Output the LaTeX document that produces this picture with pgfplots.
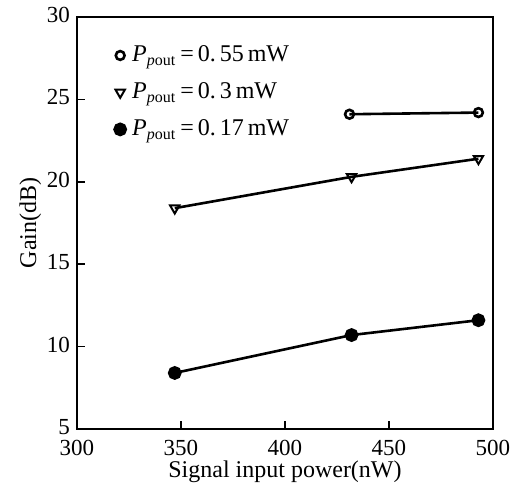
\documentclass[border=0pt]{standalone}
\usepackage{fontspec}
\setmainfont{Liberation Serif}
\usepackage{pgfplots}
\pgfplotsset{compat=1.18}

\newcommand{\Pp}{\textit{P}\textsubscript{\textit{p}out}}

\begin{document}
\begin{tikzpicture}
\useasboundingbox (-38.5pt,-28pt) rectangle (216.5pt,214.5pt);
\begin{axis}[
scale only axis,
width=208pt,
height=206pt,
xmin=300, xmax=500,
ymin=5, ymax=30,
xtick={300,350,...,500},
ytick={5,10,...,30},
xtick pos=left,
ytick pos=left,
tick align=inside,
major tick length=4pt,
axis line style={line width=1pt},
every tick/.style={line width=0.8pt, black},
/pgf/number format/assume math mode=true,
tick label style={font=\fontsize{11.5}{12}\selectfont},
xticklabel style={yshift=-2pt},
yticklabel style={yshift=1pt},
xlabel={Signal input power(nW)},
ylabel={Gain(dB)},
label style={font=\fontsize{12}{13}\selectfont},
xlabel style={yshift=4pt},
ylabel style={yshift=-4pt},
legend style={draw=none, fill=none, at={(rel axis cs:0.075,0.95)}, anchor=north west,
  font=\fontsize{12}{13}\selectfont, row sep=5pt, legend cell align=left},
legend image code/.code={\path[draw=none] (-0.08cm,0) -- (0.14cm,0); \draw[#1] plot[only marks] coordinates {(0cm,0cm)};},
]
\addplot[black, line width=1.3pt, mark=o, mark size=2.2pt, mark options={line width=1.3pt}]
coordinates {(431, 24.1)
(493, 24.2)
};
\addlegendentry{\Pp{}\,=\,0.\,55\,mW}
\addplot[black, line width=1.3pt, mark=triangle, mark size=2.7pt, mark options={rotate=180, line width=1pt, fill=white}]
coordinates {(347, 18.4)
(432, 20.3)
(493, 21.4)
};
\addlegendentry{\Pp{}\,=\,0.\,3\,mW}
\addplot[black, line width=1.3pt, mark=*, mark size=2.8pt]
coordinates {(347, 8.4)
(432, 10.7)
(493, 11.6)
};
\addlegendentry{\Pp{}\,=\,0.\,17\,mW}
\end{axis}
\end{tikzpicture}
\end{document}
